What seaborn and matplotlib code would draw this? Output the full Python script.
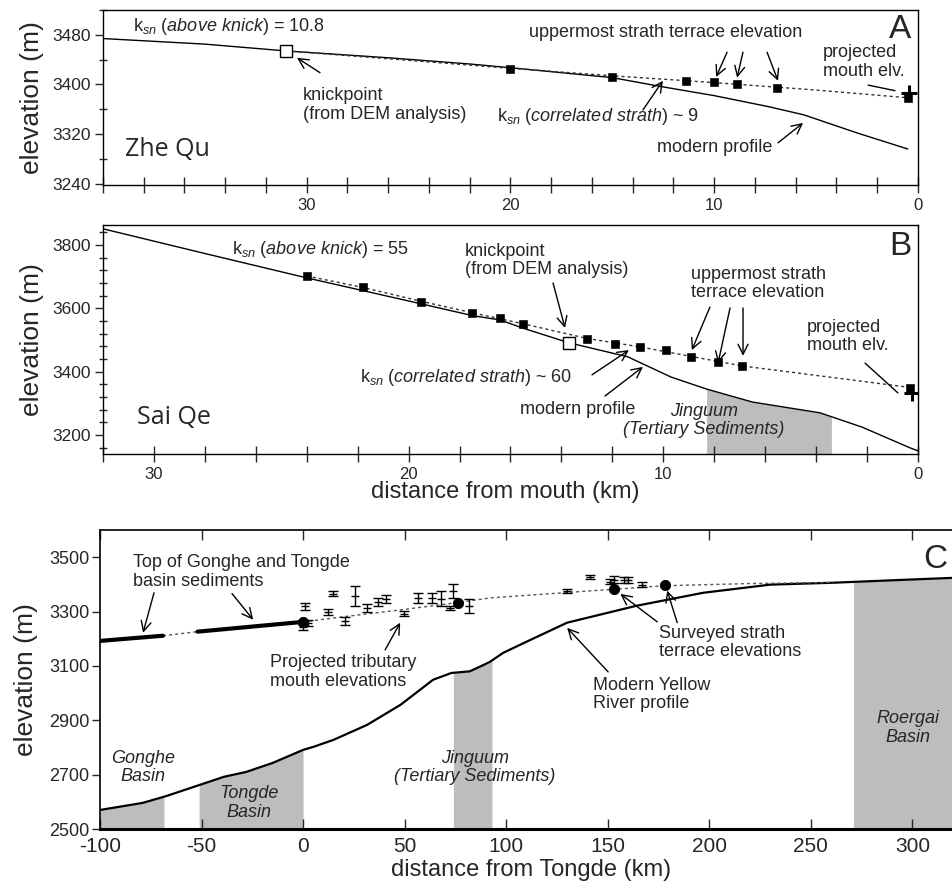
import numpy as np
import pandas as pd
import matplotlib
matplotlib.use("Agg")
import matplotlib.pyplot as plt
from matplotlib.ticker import MultipleLocator, FixedLocator
import seaborn as sns

# ---------------- Panel A : Zhe Qu ----------------
a_prof_dist = [40, 35, 31, 26, 22, 20, 15, 12.5, 10, 7.3, 5.6, 3, 0.5]
a_prof_elev = [3474, 3465, 3454, 3443, 3433, 3427, 3411, 3396, 3382, 3364, 3351, 3322, 3296]
a_terr_dist = [20.0, 15.0, 11.4, 10.0, 8.9, 6.9, 0.5]
a_terr_elev = [3425, 3412, 3406, 3404, 3400, 3395, 3379]
a_fit_dist = [31, 27, 20, 15, 10, 5, 0.3]
a_fit_elev = [3454, 3444, 3426, 3414, 3403, 3391, 3378]
a_knick_dist, a_knick_elev = [31.0], [3454]
a_mouth_dist, a_mouth_elev = [0.45], [3387]

# ---------------- Panel B : Sai Qe ----------------
b_prof_dist = [32, 28, 24, 19.5, 17.5, 16.4, 15.5, 13.7, 11.4, 9.7, 8.3, 6.5, 3.85, 2.2, 0.3, 0]
b_prof_elev = [3851, 3773, 3696, 3614, 3577, 3563, 3537, 3491, 3447, 3383, 3345, 3304, 3270, 3225, 3159, 3150]
b_terr_dist = [24.0, 21.8, 19.5, 17.5, 16.4, 15.5, 13.0, 11.9, 10.9, 9.9, 8.9, 7.85, 6.9, 0.3]
b_terr_elev = [3702, 3668, 3620, 3585, 3570, 3551, 3503, 3488, 3478, 3469, 3447, 3431, 3418, 3349]
b_fit_dist = [24, 21.8, 19.5, 17.5, 15.5, 13.0, 10.9, 8.9, 6.9, 3.5, 0.2]
b_fit_elev = [3702, 3666, 3622, 3586, 3551, 3505, 3478, 3448, 3418, 3383, 3349]
b_knick_dist, b_knick_elev = [13.7], [3491]
b_mouth_dist, b_mouth_elev = [0.25], [3333]
b_sed_range = [8.3, 3.4]

# ---------------- Panel C : Yellow River ----------------
c_prof_dist = [-100, -79, -67, -51, -39, -28, -15, 0, 5, 15, 31.5, 48, 64, 73, 82, 87, 92,
               98.5, 112, 130, 164, 197, 230, 261, 290, 320]
c_prof_elev = [2570, 2596, 2622, 2662, 2692, 2710, 2743, 2791, 2802, 2828, 2883, 2957, 3049,
               3074, 3080, 3097, 3115, 3148, 3196, 3259, 3321, 3369, 3399, 3406, 3415, 3424]
c_basin1_dist = [-100, -69]
c_basin1_elev = [3192, 3211]
c_basin2_dist = [-52, 0]
c_basin2_elev = [3226, 3262]
c_fit_dist = [-69, -52, 0, 20, 49, 76, 92, 128, 153, 178, 220, 261]
c_fit_elev = [3211, 3226, 3262, 3281, 3307, 3333, 3350, 3369, 3382, 3395, 3403, 3407]
c_trib_dist = [1.0, 2.5, 0.0, 12.3, 14.8, 20.7, 25.6, 31.5, 36.9, 40.9, 49.8, 56.7, 63.5,
               68.0, 72.4, 74.0, 81.8, 130.0, 141.4, 151.0, 153.0, 158.0, 160.0, 167.0]
c_trib_elev = [3319, 3259, 3242, 3299, 3365, 3266, 3358, 3314, 3336, 3347, 3292, 3351, 3351,
               3347, 3314, 3376, 3321, 3376, 3428, 3410, 3417, 3417, 3417, 3399]
c_trib_err = [12, 11, 9, 10, 9, 15, 36, 15, 14, 15, 10, 18, 18, 27, 7, 25, 26, 8, 7, 10, 13, 11, 11, 10]
c_surv_dist = [0, 76.4, 153.2, 178.3]
c_surv_elev = [3262, 3332, 3384, 3399]
c_basin_names = ["Gonghe\nBasin", "Tongde\nBasin", "Jinguum\n(Tertiary Sediments)", "Roergai\nBasin"]
c_basin_ranges = [(-100, -68.5), (-51.2, 0), (74, 93), (271, 320)]

# ---------------- style ----------------
sns.set_theme(style="ticks")
plt.rcParams["font.family"] = ["Liberation Sans", "DejaVu Sans"]
plt.rcParams["mathtext.fontset"] = "custom"
plt.rcParams["mathtext.rm"] = "Liberation Sans"
plt.rcParams["mathtext.it"] = "Liberation Sans:italic"
plt.rcParams["mathtext.bf"] = "Liberation Sans:bold"
plt.rcParams["axes.linewidth"] = 1.0
plt.rcParams["axes.unicode_minus"] = False

GRAY = "#bdbdbd"
DASH = (0, (2.2, 2.2))
FS = 13

fig = plt.figure(figsize=(9.53, 8.81), dpi=100)
W, H = 953.0, 881.0
axA = fig.add_axes([103 / W, 1 - 185 / H, 815 / W, 175 / H])
axB = fig.add_axes([103 / W, 1 - 454 / H, 815 / W, 229 / H])
axC = fig.add_axes([100 / W, 1 - 829 / H, 853 / W, 299 / H])


def arrow(ax, start, end, head=True):
    style = "->,head_length=0.6,head_width=0.3" if head else "-"
    ax.annotate("", xy=end, xytext=start,
                arrowprops=dict(arrowstyle=style, lw=1.0, color="black",
                                shrinkA=0, shrinkB=0))


def fill_under(ax, xs, ys, x0, x1, bottom):
    xs = np.asarray(xs, float)
    ys = np.asarray(ys, float)
    o = np.argsort(xs)
    xs, ys = xs[o], ys[o]
    inner = xs[(xs > x0) & (xs < x1)]
    xx = np.concatenate(([x0], inner, [x1]))
    yy = np.interp(xx, xs, ys)
    ax.fill_between(xx, bottom, yy, color=GRAY, lw=0, zorder=0)


def style_AB(ax, ylim, ymaj):
    ax.set_xlim(40 if ax is axA else 32, 0)
    ax.set_ylim(*ylim)
    ax.xaxis.set_major_locator(FixedLocator([30, 20, 10, 0]))
    ax.xaxis.set_minor_locator(MultipleLocator(2))
    ax.yaxis.set_major_locator(FixedLocator(ymaj))
    ax.yaxis.set_minor_locator(MultipleLocator(40))
    ax.tick_params(axis="x", which="both", direction="inout", length=11, width=1.0,
                   labelsize=12, pad=4, top=False)
    ax.tick_params(axis="y", which="major", direction="out", length=6, width=1.0,
                   labelsize=12.5, pad=3)
    ax.tick_params(axis="y", which="minor", direction="inout", length=6, width=1.0)
    ax.tick_params(axis="y", which="both", right=False)
    for s in ax.spines.values():
        s.set_visible(True)
        s.set_color("black")
        s.set_linewidth(1.0)
    ax.set_ylabel("elevation (m)", fontsize=19)
    ax.yaxis.label.set_va("center")
    ax.yaxis.set_label_coords(-0.087, 0.5)
    ax.set_xlabel("")


def ksn(label, value, sep):
    return r"k$_{\mathit{sn}}$ $\mathit{(" + label.replace(" ", r"\ ") + r")}$ " + sep + " " + value


# ---------------- Panel A ----------------
sns.lineplot(x=a_prof_dist, y=a_prof_elev, ax=axA, color="black", lw=1.0,
             estimator=None, sort=False)
sns.lineplot(x=a_fit_dist, y=a_fit_elev, ax=axA, color="#333333", lw=1.0,
             linestyle=DASH, estimator=None, sort=False)
sns.scatterplot(x=a_terr_dist, y=a_terr_elev, ax=axA, marker="s", s=30,
                color="black", edgecolor="black", zorder=5)
sns.scatterplot(x=a_knick_dist, y=a_knick_elev, ax=axA, marker="s", s=80,
                facecolor="white", edgecolor="black", linewidth=1.0, zorder=5)
axA.plot(a_mouth_dist, a_mouth_elev, marker="+", ms=12, mew=2.2, color="black",
         ls="none", zorder=6)
style_AB(axA, (3238, 3520), [3240, 3320, 3400, 3480])

axA.text(38.53, 3493, ksn("above knick", "10.8", "="), fontsize=FS, va="center", ha="left")
axA.text(30.18, 3367, "knickpoint\n(from DEM analysis)", fontsize=FS, va="center",
         ha="left", linespacing=1.1)
arrow(axA, (29.35, 3419), (30.48, 3443))
axA.text(19.09, 3483, "uppermost strath terrace elevation", fontsize=FS, va="center", ha="left")
arrow(axA, (9.37, 3452), (9.91, 3412))
arrow(axA, (8.59, 3452), (8.88, 3411))
arrow(axA, (7.41, 3452), (6.87, 3406))
axA.text(4.66, 3436, "projected\nmouth elv.", fontsize=FS, va="center", ha="left",
         linespacing=1.1)
arrow(axA, (2.45, 3399), (1.13, 3390), head=False)
axA.text(20.66, 3348, ksn("correlated strath", "9", "~"), fontsize=FS, va="center", ha="left")
arrow(axA, (13.5, 3359), (12.52, 3406))
axA.text(12.81, 3298, "modern profile", fontsize=FS, va="center", ha="left")
arrow(axA, (6.87, 3306), (5.64, 3338))
axA.text(38.92, 3296, "Zhe Qu", fontsize=18, va="center", ha="left",
         family=["Open Sans", "DejaVu Sans"])
axA.text(0.88, 3488, "A", fontsize=24, va="center", ha="center")

# ---------------- Panel B ----------------
fill_under(axB, b_prof_dist, b_prof_elev, b_sed_range[1], b_sed_range[0], 3140)
sns.lineplot(x=b_prof_dist, y=b_prof_elev, ax=axB, color="black", lw=1.0,
             estimator=None, sort=False)
sns.lineplot(x=b_fit_dist, y=b_fit_elev, ax=axB, color="#333333", lw=1.0,
             linestyle=DASH, estimator=None, sort=False)
sns.scatterplot(x=b_terr_dist, y=b_terr_elev, ax=axB, marker="s", s=30,
                color="black", edgecolor="black", zorder=5)
sns.scatterplot(x=b_knick_dist, y=b_knick_elev, ax=axB, marker="s", s=80,
                facecolor="white", edgecolor="black", linewidth=1.0, zorder=5)
axB.plot(b_mouth_dist, b_mouth_elev, marker="+", ms=12, mew=2.2, color="black",
         ls="none", zorder=6)
style_AB(axB, (3140, 3863), [3200, 3400, 3600, 3800])
axB.set_xlabel("distance from mouth (km)", fontsize=17)
axB.xaxis.label.set_va("center")
axB.xaxis.set_label_coords(0.493, -0.166)

axB.text(26.94, 3787, ksn("above knick", "55", "="), fontsize=FS, va="center", ha="left")
axB.text(17.79, 3751, "knickpoint\n(from DEM analysis)", fontsize=FS, va="center",
         ha="left", linespacing=1.1)
arrow(axB, (14.33, 3680), (13.86, 3538))
axB.text(8.91, 3678, "uppermost strath\nterrace elevation", fontsize=FS, va="center",
         ha="left", linespacing=1.1)
arrow(axB, (8.17, 3604), (8.88, 3468))
arrow(axB, (7.38, 3601), (7.85, 3427))
arrow(axB, (6.87, 3601), (6.87, 3450))
axB.text(4.36, 3511, "projected\nmouth elv.", fontsize=FS, va="center", ha="left",
         linespacing=1.1)
arrow(axB, (2.08, 3427), (0.79, 3333), head=False)
axB.text(21.91, 3380, ksn("correlated strath", "60", "~"), fontsize=FS, va="center", ha="left")
arrow(axB, (12.8, 3390), (11.35, 3468))
axB.text(15.63, 3282, "modern profile", fontsize=FS, va="center", ha="left")
arrow(axB, (12.29, 3323), (10.80, 3415))
axB.text(8.40, 3246, "Jinguum\n(Tertiary Sediments)", fontsize=FS, va="center",
         ha="center", style="italic", linespacing=1.1)
axB.text(30.67, 3254, "Sai Qe", fontsize=18, va="center", ha="left",
         family=["Open Sans", "DejaVu Sans"])
axB.text(0.71, 3794, "B", fontsize=24, va="center", ha="center")

# ---------------- Panel C ----------------
for (x0, x1) in c_basin_ranges:
    fill_under(axC, c_prof_dist, c_prof_elev, x0, x1, 2500)
sns.lineplot(x=c_prof_dist, y=c_prof_elev, ax=axC, color="black", lw=1.6,
             estimator=None, sort=False)
sns.lineplot(x=c_fit_dist, y=c_fit_elev, ax=axC, color="#555555", lw=1.0,
             linestyle=DASH, estimator=None, sort=False)
sns.lineplot(x=c_basin1_dist, y=c_basin1_elev, ax=axC, color="black", lw=3.0,
             estimator=None, sort=False)
sns.lineplot(x=c_basin2_dist, y=c_basin2_elev, ax=axC, color="black", lw=3.0,
             estimator=None, sort=False)
axC.errorbar(c_trib_dist, c_trib_elev, yerr=c_trib_err, fmt="_", ms=6, mew=1.0,
             color="black", ecolor="black", elinewidth=1.0, capsize=3.5, capthick=1.0,
             zorder=4)
sns.scatterplot(x=c_surv_dist, y=c_surv_elev, ax=axC, marker="o", s=55,
                color="black", edgecolor="black", zorder=6)

axC.set_xlim(-100, 320)
axC.set_ylim(2500, 3600)
axC.xaxis.set_major_locator(MultipleLocator(50))
axC.yaxis.set_major_locator(FixedLocator([2500, 2700, 2900, 3100, 3300, 3500]))
axC.tick_params(axis="x", which="major", direction="in", length=7, width=1.0,
                labelsize=15, pad=6, top=True, bottom=True)
axC.tick_params(axis="y", which="major", direction="out", length=6, width=1.0,
                labelsize=13, pad=1.5, right=False)
axC.spines["right"].set_visible(False)
axC.spines["top"].set_visible(True)
axC.spines["bottom"].set_linewidth(2.2)
axC.spines["left"].set_linewidth(1.2)
axC.spines["top"].set_linewidth(1.2)
for s in axC.spines.values():
    s.set_color("black")
axC.set_ylabel("elevation (m)", fontsize=19)
axC.yaxis.label.set_va("center")
axC.yaxis.set_label_coords(-0.087, 0.5)
axC.set_xlabel("distance from Tongde (km)", fontsize=17)
axC.xaxis.label.set_va("center")
axC.xaxis.set_label_coords(0.505, -0.137)

basin_label_pos = [(-78.8, 2726), (-26.6, 2596), (84.7, 2725), (298, 2872)]
for name, (bx, by) in zip(c_basin_names, basin_label_pos):
    axC.text(bx, by, name, fontsize=FS, style="italic", ha="center", va="center",
             linespacing=1.1)

axC.text(-83.7, 3445, "Top of Gonghe and Tongde\nbasin sediments", fontsize=FS,
         ha="left", va="center", linespacing=1.1)
arrow(axC, (-73.4, 3369), (-78.8, 3222))
arrow(axC, (-35.0, 3366), (-24.6, 3270))
axC.text(-16.3, 3078, "Projected tributary\nmouth elevations", fontsize=FS,
         ha="left", va="center", linespacing=1.1)
arrow(axC, (40.4, 3159), (47.8, 3259))
axC.text(175.4, 3185, "Surveyed strath\nterrace elevations", fontsize=FS,
         ha="left", va="center", linespacing=1.1)
arrow(axC, (174.4, 3262), (156.2, 3365))
arrow(axC, (184.2, 3259), (179.3, 3377))
axC.text(142.9, 2995, "Modern Yellow\nRiver profile", fontsize=FS,
         ha="left", va="center", linespacing=1.1)
arrow(axC, (150.2, 3078), (130.0, 3240))
axC.text(311.3, 3491, "C", fontsize=24, va="center", ha="center")

fig.savefig("out.png", dpi=100)
